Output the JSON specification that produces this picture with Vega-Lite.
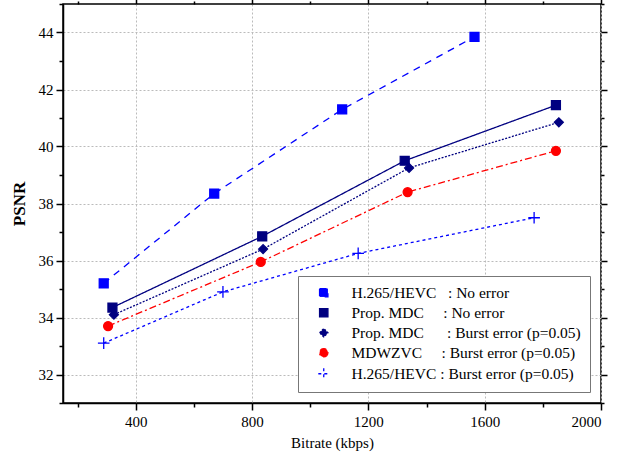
{
  "$schema": "https://vega.github.io/schema/vega-lite/v6.json",
  "autosize": "none",
  "width": 538,
  "height": 399,
  "padding": {"left": 63, "top": 4, "right": 33, "bottom": 54},
  "background": "white",
  "config": {
    "view": {"stroke": "#000", "strokeWidth": 1.5},
    "legend": {"disable": false}
  },
  "data": {"values": [
    {"series": "H.265/HEVC : No error", "bitrate": 290, "psnr": 35.2},
    {"series": "H.265/HEVC : No error", "bitrate": 670, "psnr": 38.35},
    {"series": "H.265/HEVC : No error", "bitrate": 1110, "psnr": 41.3},
    {"series": "H.265/HEVC : No error", "bitrate": 1565, "psnr": 43.85},
    {"series": "Prop. MDC : No error", "bitrate": 320, "psnr": 34.35},
    {"series": "Prop. MDC : No error", "bitrate": 835, "psnr": 36.85},
    {"series": "Prop. MDC : No error", "bitrate": 1325, "psnr": 39.5},
    {"series": "Prop. MDC : No error", "bitrate": 1845, "psnr": 41.45},
    {"series": "Prop. MDC : Burst error (p=0.05)", "bitrate": 325, "psnr": 34.1},
    {"series": "Prop. MDC : Burst error (p=0.05)", "bitrate": 838, "psnr": 36.4},
    {"series": "Prop. MDC : Burst error (p=0.05)", "bitrate": 1340, "psnr": 39.25},
    {"series": "Prop. MDC : Burst error (p=0.05)", "bitrate": 1855, "psnr": 40.85},
    {"series": "MDWZVC : Burst error (p=0.05)", "bitrate": 305, "psnr": 33.7},
    {"series": "MDWZVC : Burst error (p=0.05)", "bitrate": 830, "psnr": 35.95},
    {"series": "MDWZVC : Burst error (p=0.05)", "bitrate": 1335, "psnr": 38.4},
    {"series": "MDWZVC : Burst error (p=0.05)", "bitrate": 1845, "psnr": 39.85},
    {"series": "H.265/HEVC : Burst error (p=0.05)", "bitrate": 290, "psnr": 33.1},
    {"series": "H.265/HEVC : Burst error (p=0.05)", "bitrate": 700, "psnr": 34.9},
    {"series": "H.265/HEVC : Burst error (p=0.05)", "bitrate": 1165, "psnr": 36.25},
    {"series": "H.265/HEVC : Burst error (p=0.05)", "bitrate": 1770, "psnr": 37.5}
  ]},
  "layer": [
    {
      "mark": {"type": "line", "strokeWidth": 1.3},
      "encoding": {
        "x": {"field": "bitrate", "type": "quantitative", "scale": {"domain": [150, 2000], "nice": false, "zero": false},
          "axis": {"title": "Bitrate (kbps)", "titleFont": "Liberation Serif, Times New Roman, serif", "titleColor": "#000", "titleFontSize": 15, "titleFontWeight": "normal", "titlePadding": 6, "format": "d",
            "labelFont": "Liberation Serif, Times New Roman, serif", "labelFontSize": 15, "labelColor": "#000",
            "domainColor": "#000", "domainWidth": 1.5, "tickColor": "#000", "tickWidth": 1.5,
            "values": [200, 400, 600, 800, 1000, 1200, 1400, 1600, 1800, 2000],
            "labelExpr": "datum.value % 400 === 0 ? datum.label : ''",
            "tickSize": {"condition": {"test": "datum.value % 400 === 0", "value": 7}, "value": 4},
            "grid": true, "gridColor": "#bbbbbb", "gridDash": [2, 2],
            "gridOpacity": {"condition": {"test": "datum.value % 400 === 0", "value": 1}, "value": 0},
            "labelPadding": 4}},
        "y": {"field": "psnr", "type": "quantitative", "scale": {"domain": [31, 45], "nice": false, "zero": false},
          "axis": {"title": "PSNR", "titleFont": "Liberation Serif, Times New Roman, serif", "titleColor": "#000", "titleFontSize": 17, "titleFontWeight": "bold", "titlePadding": 10,
            "labelFont": "Liberation Serif, Times New Roman, serif", "labelFontSize": 15, "labelColor": "#000",
            "domainColor": "#000", "domainWidth": 1.5, "tickColor": "#000", "tickWidth": 1.5,
            "values": [31, 32, 33, 34, 35, 36, 37, 38, 39, 40, 41, 42, 43, 44, 45],
            "labelExpr": "datum.value % 2 === 0 ? datum.label : ''",
            "tickSize": {"condition": {"test": "datum.value % 2 === 0", "value": 7}, "value": 4},
            "grid": true, "gridColor": "#bbbbbb", "gridDash": [2, 2],
            "gridOpacity": {"condition": {"test": "datum.value % 2 === 0 && datum.value < 45", "value": 1}, "value": 0},
            "labelPadding": 3}},
        "color": {"field": "series", "type": "nominal", "sort": null,
          "scale": {"domain": ["H.265/HEVC : No error", "Prop. MDC : No error", "Prop. MDC : Burst error (p=0.05)", "MDWZVC : Burst error (p=0.05)", "H.265/HEVC : Burst error (p=0.05)"],
            "range": ["#0000ff", "#000080", "#000080", "#ff0000", "#0000ff"]},
          "legend": {"title": null, "orient": "bottom-right", "offset": 11, "fillColor": "white", "strokeColor": "#777", "padding": 9,
            "labelFont": "Liberation Serif, Times New Roman, serif", "labelFontSize": 15.5, "labelColor": "#000", "symbolSize": 70, "rowPadding": 3, "labelOffset": 20, "symbolOffset": 9, "labelLimit": 400,
            "symbolStrokeWidth": 1.3, "disable": false,
            "labelExpr": "datum.label == 'H.265/HEVC : No error' ? 'H.265/HEVC\u00a0\u00a0\u00a0: No error' : datum.label == 'Prop. MDC : No error' ? '\u00a0Prop. MDC\u00a0\u00a0\u00a0\u00a0\u00a0: No error' : datum.label == 'Prop. MDC : Burst error (p=0.05)' ? 'Prop. MDC\u00a0\u00a0\u00a0\u00a0\u00a0\u00a0: Burst error (p=0.05)' : datum.label == 'MDWZVC : Burst error (p=0.05)' ? '\u00a0MDWZVC\u00a0\u00a0\u00a0\u00a0\u00a0: Burst error (p=0.05)' : '\u00a0H.265/HEVC\u00a0: Burst error (p=0.05)'"}},
        "strokeDash": {"field": "series", "type": "nominal", "legend": null,
          "scale": {"domain": ["H.265/HEVC : No error", "Prop. MDC : No error", "Prop. MDC : Burst error (p=0.05)", "MDWZVC : Burst error (p=0.05)", "H.265/HEVC : Burst error (p=0.05)"],
            "range": [[7, 6], [1, 0], [2, 1.5], [7, 3, 2, 3], [3, 3]]}}
      }
    },
    {
      "mark": {"type": "point", "filled": true, "strokeWidth": 1.3, "opacity": 1},
      "encoding": {
        "x": {"field": "bitrate", "type": "quantitative", "axis": null},
        "y": {"field": "psnr", "type": "quantitative", "axis": null},
        "color": {"field": "series", "type": "nominal", "sort": null},
        "shape": {"field": "series", "type": "nominal", "sort": null,
          "scale": {"domain": ["H.265/HEVC : No error", "Prop. MDC : No error", "Prop. MDC : Burst error (p=0.05)", "MDWZVC : Burst error (p=0.05)", "H.265/HEVC : Burst error (p=0.05)"],
            "range": ["square", "square", "diamond", "circle", "M-1.3,0L1.3,0M0,-1.3L0,1.3"]}},
        "stroke": {"field": "series", "type": "nominal", "sort": null, "legend": null,
          "scale": {"domain": ["H.265/HEVC : No error", "Prop. MDC : No error", "Prop. MDC : Burst error (p=0.05)", "MDWZVC : Burst error (p=0.05)", "H.265/HEVC : Burst error (p=0.05)"],
            "range": ["#0000ff", "#000080", "#000080", "#ff0000", "#0000ff"]}},
        "size": {"value": 80}
      }
    },
    {
      "mark": {"type": "point", "opacity": 0},
      "encoding": {
        "x": {"field": "bitrate", "type": "quantitative",
          "axis": {"orient": "top", "title": null, "labels": false, "domain": false, "grid": false, "tickColor": "#000", "tickWidth": 1.5,
            "values": [200, 400, 600, 800, 1000, 1200, 1400, 1600, 1800, 2000],
            "tickSize": {"condition": {"test": "datum.value % 400 === 0", "value": 6}, "value": 3}}},
        "y": {"field": "psnr", "type": "quantitative",
          "axis": {"orient": "right", "title": null, "labels": false, "domain": false, "grid": false, "tickColor": "#000", "tickWidth": 1.5,
            "values": [31, 32, 33, 34, 35, 36, 37, 38, 39, 40, 41, 42, 43, 44, 45],
            "tickSize": {"condition": {"test": "datum.value % 2 === 0", "value": 6}, "value": 3}}}
      }
    }
  ],
  "resolve": {"axis": {"x": "independent", "y": "independent"}}
}
